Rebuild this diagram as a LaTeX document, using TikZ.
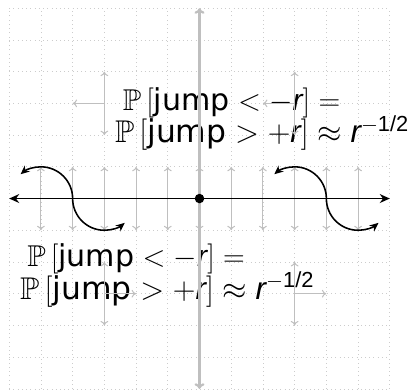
\documentclass[tikz,border=0pt]{standalone}
\usepackage{amsmath,amssymb,graphicx}
\usepackage{fontspec}
\setmainfont{Liberation Sans}
\newfontfamily\jumpfont{DejaVu Sans}
\usetikzlibrary{arrows.meta}
\newcommand{\jr}{\text{\itshape r}}
\newcommand{\jw}{\text{\jumpfont jump}}
\newcommand{\half}{\text{1/2}}
\newcommand{\lineA}{\resizebox{6.85cm}{!}{$\mathbb{P}\,[\jw < -\jr] =$}}
\newcommand{\lineB}{\resizebox{9.27cm}{!}{$\mathbb{P}\,[\jw > +\jr] \approx \jr^{-\half}$}}
\begin{document}
\begin{tikzpicture}
\useasboundingbox (-6.29,-6.01) rectangle (6.70,6.26);
\tikzset{
 gridline/.style={gray!40, dash pattern=on 0.6pt off 3.2pt, line width=0.6pt},
 garrow/.style={gray!50, line width=0.9pt, -{To[length=4pt,width=7pt]}},
 gaxis/.style={gray!50, line width=2pt, {To[length=5pt,width=9pt]}-{To[length=5pt,width=9pt]}},
 baxis/.style={black, line width=1.7pt, {Stealth[length=9pt,width=8pt]}-{Stealth[length=9pt,width=8pt]}},
 bcurve/.style={black, line width=1.4pt, -{Stealth[length=8pt,width=7pt]}},
 lbl/.style={anchor=base west, inner sep=0pt, font=\huge},
}
\draw[gridline] (-6,-6) grid (6,6);
% labels
\node[lbl] (t1) at (-2.42,2.77) {\lineA};
\node[lbl] (t2) at (-2.67,1.77) {\lineB};
\node[lbl] (t3) at (-5.43,-2.15) {\lineA};
\node[lbl] (t4) at (-5.66,-3.17) {\lineB};
% small gray arrows along the axis
\foreach \x in {-5,...,5}{
  \coordinate (b\x) at (\x,0);
  \coordinate (u\x) at (\x,1);
  \coordinate (d\x) at (\x,-1);
  \draw[garrow] (b\x) -- (u\x);
  \draw[garrow] (b\x) -- (d\x);
}
% gray arrow crosses
\foreach \px/\py/\dx in {-3/3/-1, 3/3/-1, -3/-3/1, 3/-3/1}{
  \coordinate (c) at (\px,\py);
  \coordinate (cu) at (\px,\py+1);
  \coordinate (cd) at (\px,\py-1);
  \coordinate (ch) at (\px+\dx,\py);
  \draw[garrow] (c) -- (cu);
  \draw[garrow] (c) -- (cd);
  \draw[garrow] (c) -- (ch);
}
% axes
\coordinate (vt) at (0,6);
\coordinate (vb) at (0,-6);
\coordinate (hl) at (-6,0);
\coordinate (hr) at (6,0);
\draw[gaxis] (vb) -- (vt);
\draw[baxis] (hl) -- (hr);
% curved arrows
\coordinate (sl) at (-4,0);
\coordinate (sr) at (4,0);
\draw[bcurve] (sl) arc[start angle=0,end angle=130,radius=1];
\draw[bcurve] (sl) arc[start angle=180,end angle=310,radius=1];
\draw[bcurve] (sr) arc[start angle=0,end angle=130,radius=1];
\draw[bcurve] (sr) arc[start angle=180,end angle=310,radius=1];
\node[circle, fill=black, inner sep=0pt, minimum size=0.3cm] (o) at (0,0) {};
\end{tikzpicture}
\end{document}
